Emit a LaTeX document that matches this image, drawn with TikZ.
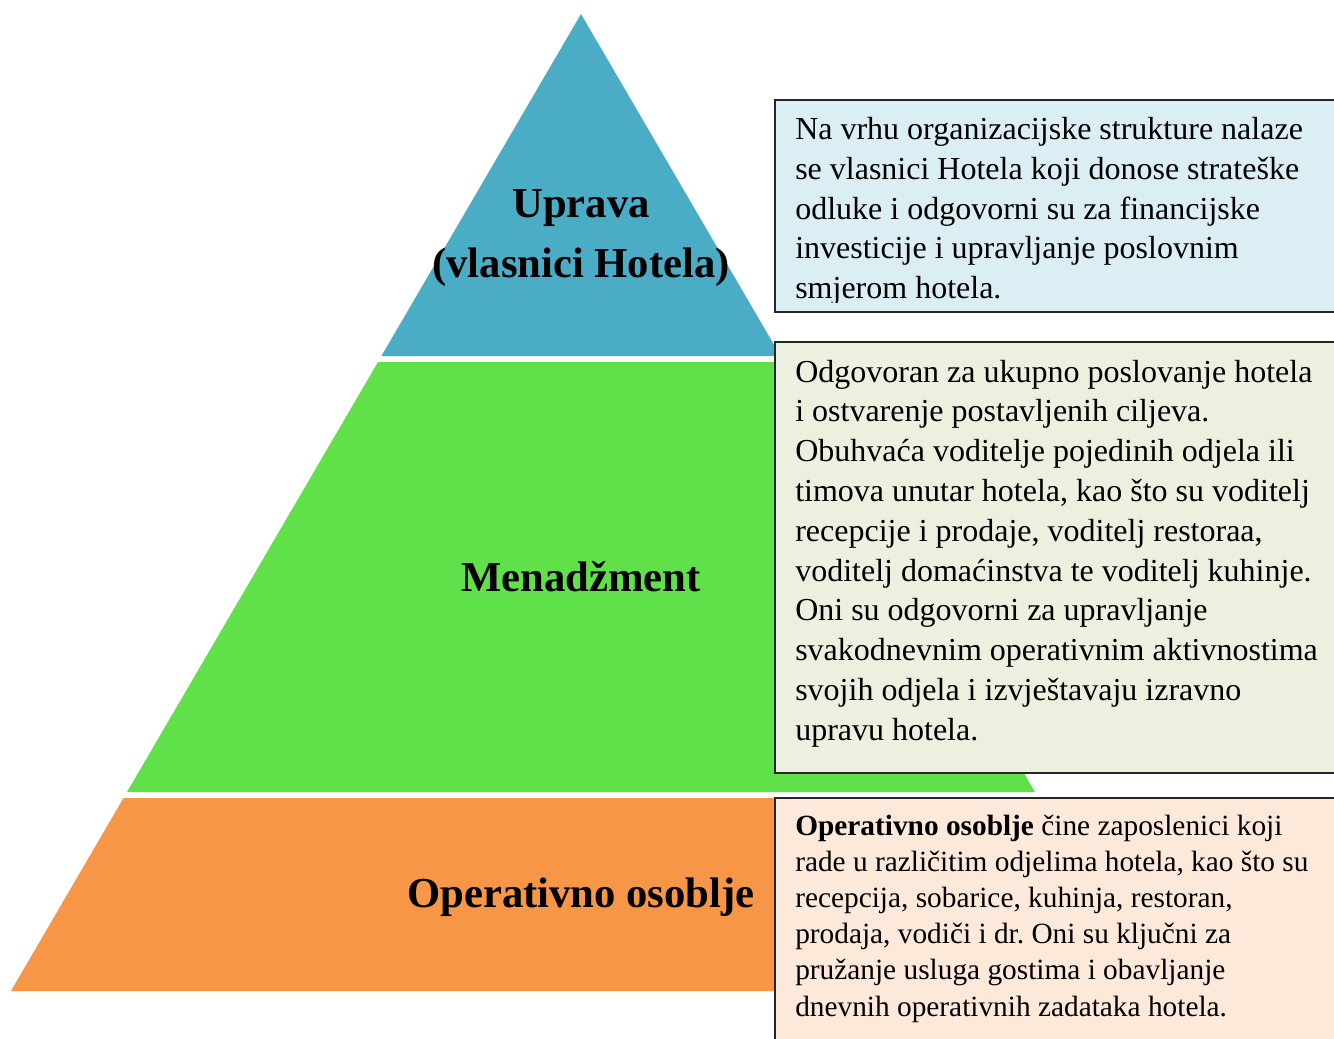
\documentclass[tikz,border=0pt]{standalone}
\usepackage{fontspec}
\setmainfont{Liberation Serif}
\frenchspacing
\definecolor{cblue}{HTML}{4BACC6}
\definecolor{cgreen}{HTML}{60E14A}
\definecolor{corange}{HTML}{F79646}
\definecolor{fblue}{HTML}{DAEEF3}
\definecolor{fgreen}{HTML}{EBF1DE}
\definecolor{forange}{HTML}{FDE9D9}
\tikzset{
  infobox/.style={draw=black!85, line width=1pt},
  level/.style={font=\fontsize{32}{45}\selectfont\bfseries, inner sep=0pt, align=center},
  bodytext/.style={inner sep=0pt, anchor=base west}
}
\begin{document}
\begin{tikzpicture}[x=0.75pt, y=-0.75pt]
\useasboundingbox (0,0) rectangle (1334,1038);
\begin{scope}
\clip (0,0) rectangle (1334,1038);
% pyramid
\fill[cblue] (581,14) -- (780.6,356) -- (381.4,356) -- cycle;
\fill[cgreen] (378,362) -- (784,362) -- (1035,792) -- (127,792) -- cycle;
\fill[corange] (123.5,798) -- (1038.5,798) -- (1151,991) -- (10.9,991) -- cycle;
% boxes
\coordinate (b1nw) at (775,100); \coordinate (b1se) at (1345,312);
\coordinate (b2nw) at (775,342); \coordinate (b2se) at (1345,773);
\coordinate (b3nw) at (775,798); \coordinate (b3se) at (1345,1050);
\fill[fblue] (b1nw) rectangle (b1se);
\fill[fgreen] (b2nw) rectangle (b2se);
\fill[forange] (b3nw) rectangle (b3se);
\begin{scope}
\clip (775,100) rectangle (1345,302);
\node[bodytext] (t1) at (795,140) {\parbox[t]{700pt}{\fontsize{24}{29.7}\selectfont
Na vrhu organizacijske strukture nalaze\\
se vlasnici Hotela koji donose strateške\\
odluke i odgovorni su za financijske\\
investicije i upravljanje poslovnim\\
smjerom hotela.}};
\end{scope}
\node[bodytext] (t2) at (795,382) {\parbox[t]{700pt}{\fontsize{24}{29.85}\selectfont
Odgovoran za ukupno poslovanje hotela\\
i ostvarenje postavljenih ciljeva.\\
Obuhvaća voditelje pojedinih odjela ili\\
timova unutar hotela, kao što su voditelj\\
recepcije i prodaje, voditelj restoraa,\\
voditelj domaćinstva te voditelj kuhinje.\\
Oni su odgovorni za upravljanje\\
svakodnevnim operativnim aktivnostima\\
svojih odjela i izvještavaju izravno\\
upravu hotela.}};
\node[bodytext] (t3) at (795,835) {\parbox[t]{700pt}{\fontsize{22}{27.15}\selectfont
\textbf{Operativno osoblje} čine zaposlenici koji\\
rade u različitim odjelima hotela, kao što su\\
recepcija, sobarice, kuhinja, restoran,\\
prodaja, vodiči i dr. Oni su ključni za\\
pružanje usluga gostima i obavljanje\\
dnevnih operativnih zadataka hotela.}};
\draw[infobox] (b1nw) rectangle (b1se);
\draw[infobox] (b2nw) rectangle (b2se);
\draw[infobox] (b3nw) rectangle (b3se);
\end{scope}
% level labels
\node[level] (uprava) at (581,238) {Uprava\\(vlasnici Hotela)};
\node[level, anchor=base] (menad) at (581,591) {Menadžment};
\node[level, anchor=base] (oper) at (581,907) {Operativno osoblje};
\end{tikzpicture}
\end{document}
